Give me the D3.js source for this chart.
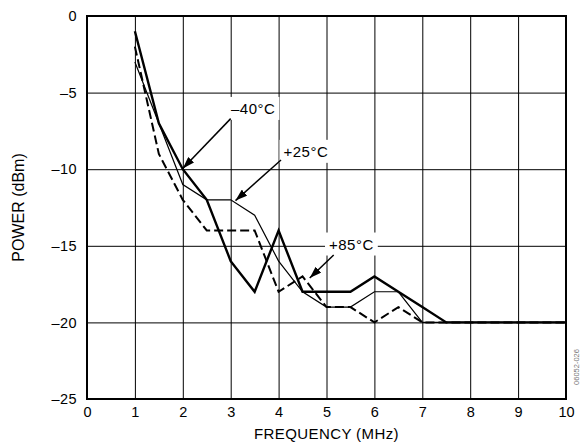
<!DOCTYPE html>
<html>
<head>
<meta charset="utf-8">
<script src="https://cdn.jsdelivr.net/npm/d3@7"></script>
<style>
  body { margin: 0; background: #fff; }
  text { font-family: "Liberation Sans", Arial, sans-serif; }
</style>
</head>
<body>
<div id="main"></div>
<script>
// data (MHz, dBm)
var freq = [1, 1.5, 2, 2.5, 3, 3.5, 4, 4.5, 5, 5.5, 6, 6.5, 7, 7.5, 8, 8.5, 9, 9.5, 10];
var powerM40 = [-1, -7, -10, -12, -16, -18, -14, -18, -18, -18, -17, -18, -19, -20, -20, -20, -20, -20, -20];
var powerP25 = [-3, -7, -11, -12, -12, -13, -16, -18, -19, -19, -18, -18, -20, -20, -20, -20, -20, -20, -20];
var powerP85 = [-2, -9, -12, -14, -14, -14, -18, -17, -19, -19, -20, -19, -20, -20, -20, -20, -20, -20, -20];
var xTicks = [0, 1, 2, 3, 4, 5, 6, 7, 8, 9, 10];
var yTicks = [-25, -20, -15, -10, -5, 0];

// callouts: label, label position, arrow start, arrow tip (data units)
var callouts = [
  {label: "\u201340\u00b0C", at: [3.47, -6.05], from: [3.0, -6.7], to: [2.0, -9.95]},
  {label: "+25\u00b0C", at: [4.57, -8.85], from: [4.05, -9.4], to: [3.1, -12.05]},
  {label: "+85\u00b0C", at: [5.52, -14.9], from: [5.15, -15.6], to: [4.65, -17.1]}
];

var W = 580, H = 443;
var margin = {top: 16, right: 14, bottom: 44, left: 87},
    width = W - margin.left - margin.right,
    height = H - margin.top - margin.bottom;

var svg = d3.select("#main").append("svg")
    .attr("width", W)
    .attr("height", H);

var x = d3.scaleLinear().domain([0, 10]).range([0, width]);
var y = d3.scaleLinear().domain([-25, 0]).range([height, 0]);

var g = svg.append("g")
    .attr("transform", "translate(" + margin.left + "," + margin.top + ")");

// grid
g.append("g")
    .attr("transform", "translate(0," + height + ")")
    .call(d3.axisBottom(x).tickValues(xTicks.slice(1, -1)).tickSize(-height).tickFormat(""))
    .call(function(a) { a.select(".domain").remove(); })
    .selectAll("line").attr("stroke", "#000").attr("stroke-width", 1);

g.append("g")
    .call(d3.axisLeft(y).tickValues(yTicks.slice(1, -1)).tickSize(-width).tickFormat(""))
    .call(function(a) { a.select(".domain").remove(); })
    .selectAll("line").attr("stroke", "#000").attr("stroke-width", 1);

// tick labels
var xa = g.append("g")
    .attr("transform", "translate(0," + height + ")")
    .call(d3.axisBottom(x).tickValues(xTicks).tickSize(0).tickPadding(8).tickFormat(d3.format("d")));
xa.attr("font-size", 14.5).attr("font-family", "'Liberation Sans', Arial, sans-serif");
xa.select(".domain").remove();
xa.selectAll("text").attr("fill", "#000");

var ya = g.append("g")
    .call(d3.axisLeft(y).tickValues(yTicks).tickSize(0).tickPadding(10)
      .tickFormat(function(d) { return d < 0 ? "\u2013" + Math.abs(d) : d; }));
ya.attr("font-size", 14.5).attr("font-family", "'Liberation Sans', Arial, sans-serif");
ya.select(".domain").remove();
ya.selectAll("text").attr("fill", "#000").attr("letter-spacing", 0.4);

// callout labels with white boxes
callouts.forEach(function(c) {
  var lg = g.append("g");
  var box = lg.append("rect").attr("fill", "#fff");
  var t = lg.append("text")
      .attr("x", x(c.at[0]))
      .attr("y", y(c.at[1]))
      .attr("text-anchor", "middle")
      .attr("dy", "0.35em")
      .attr("font-size", 15)
      .attr("letter-spacing", 0.5)
      .text(c.label);
  var b = t.node().getBBox();
  box.attr("x", b.x - 4).attr("y", b.y - 3)
      .attr("width", b.width + 8).attr("height", b.height + 6);
});

// curves
var line = d3.line()
    .x(function(d) { return x(d[0]); })
    .y(function(d) { return y(d[1]); });

function pairs(vals) { return freq.map(function(f, i) { return [f, vals[i]]; }); }

g.append("path").datum(pairs(powerP85))
    .attr("d", line).attr("fill", "none").attr("stroke", "#000")
    .attr("stroke-width", 2).attr("stroke-dasharray", "9,4");

g.append("path").datum(pairs(powerP25))
    .attr("d", line).attr("fill", "none").attr("stroke", "#000")
    .attr("stroke-width", 1.2);

g.append("path").datum(pairs(powerM40))
    .attr("d", line).attr("fill", "none").attr("stroke", "#000")
    .attr("stroke-width", 2.4);

// arrows
svg.append("defs").append("marker")
    .attr("id", "arrow")
    .attr("viewBox", "0 0 12 8")
    .attr("refX", 12).attr("refY", 4)
    .attr("markerWidth", 12).attr("markerHeight", 8)
    .attr("markerUnits", "userSpaceOnUse")
    .attr("orient", "auto")
    .append("path").attr("d", "M0,0L12,4L0,8Z").attr("fill", "#000");

callouts.forEach(function(c) {
  g.append("line")
      .attr("x1", x(c.from[0])).attr("y1", y(c.from[1]))
      .attr("x2", x(c.to[0])).attr("y2", y(c.to[1]))
      .attr("stroke", "#000").attr("stroke-width", 1.5)
      .attr("marker-end", "url(#arrow)");
});

// frame
g.append("rect")
    .attr("width", width).attr("height", height)
    .attr("fill", "none").attr("stroke", "#000").attr("stroke-width", 2);

// axis titles
svg.append("text")
    .attr("x", margin.left + width / 2)
    .attr("y", 439)
    .attr("text-anchor", "middle")
    .attr("font-size", 15)
    .attr("letter-spacing", 0.4)
    .text("FREQUENCY (MHz)");

svg.append("text")
    .attr("transform", "translate(24," + (margin.top + height / 2) + ") rotate(-90)")
    .attr("text-anchor", "middle")
    .attr("font-size", 16)
    .text("POWER (dBm)");

svg.append("text")
    .attr("transform", "translate(579,367) rotate(-90)")
    .attr("text-anchor", "middle")
    .attr("font-size", 7.5)
    .attr("fill", "#777")
    .text("06052-026");
</script>
</body>
</html>
